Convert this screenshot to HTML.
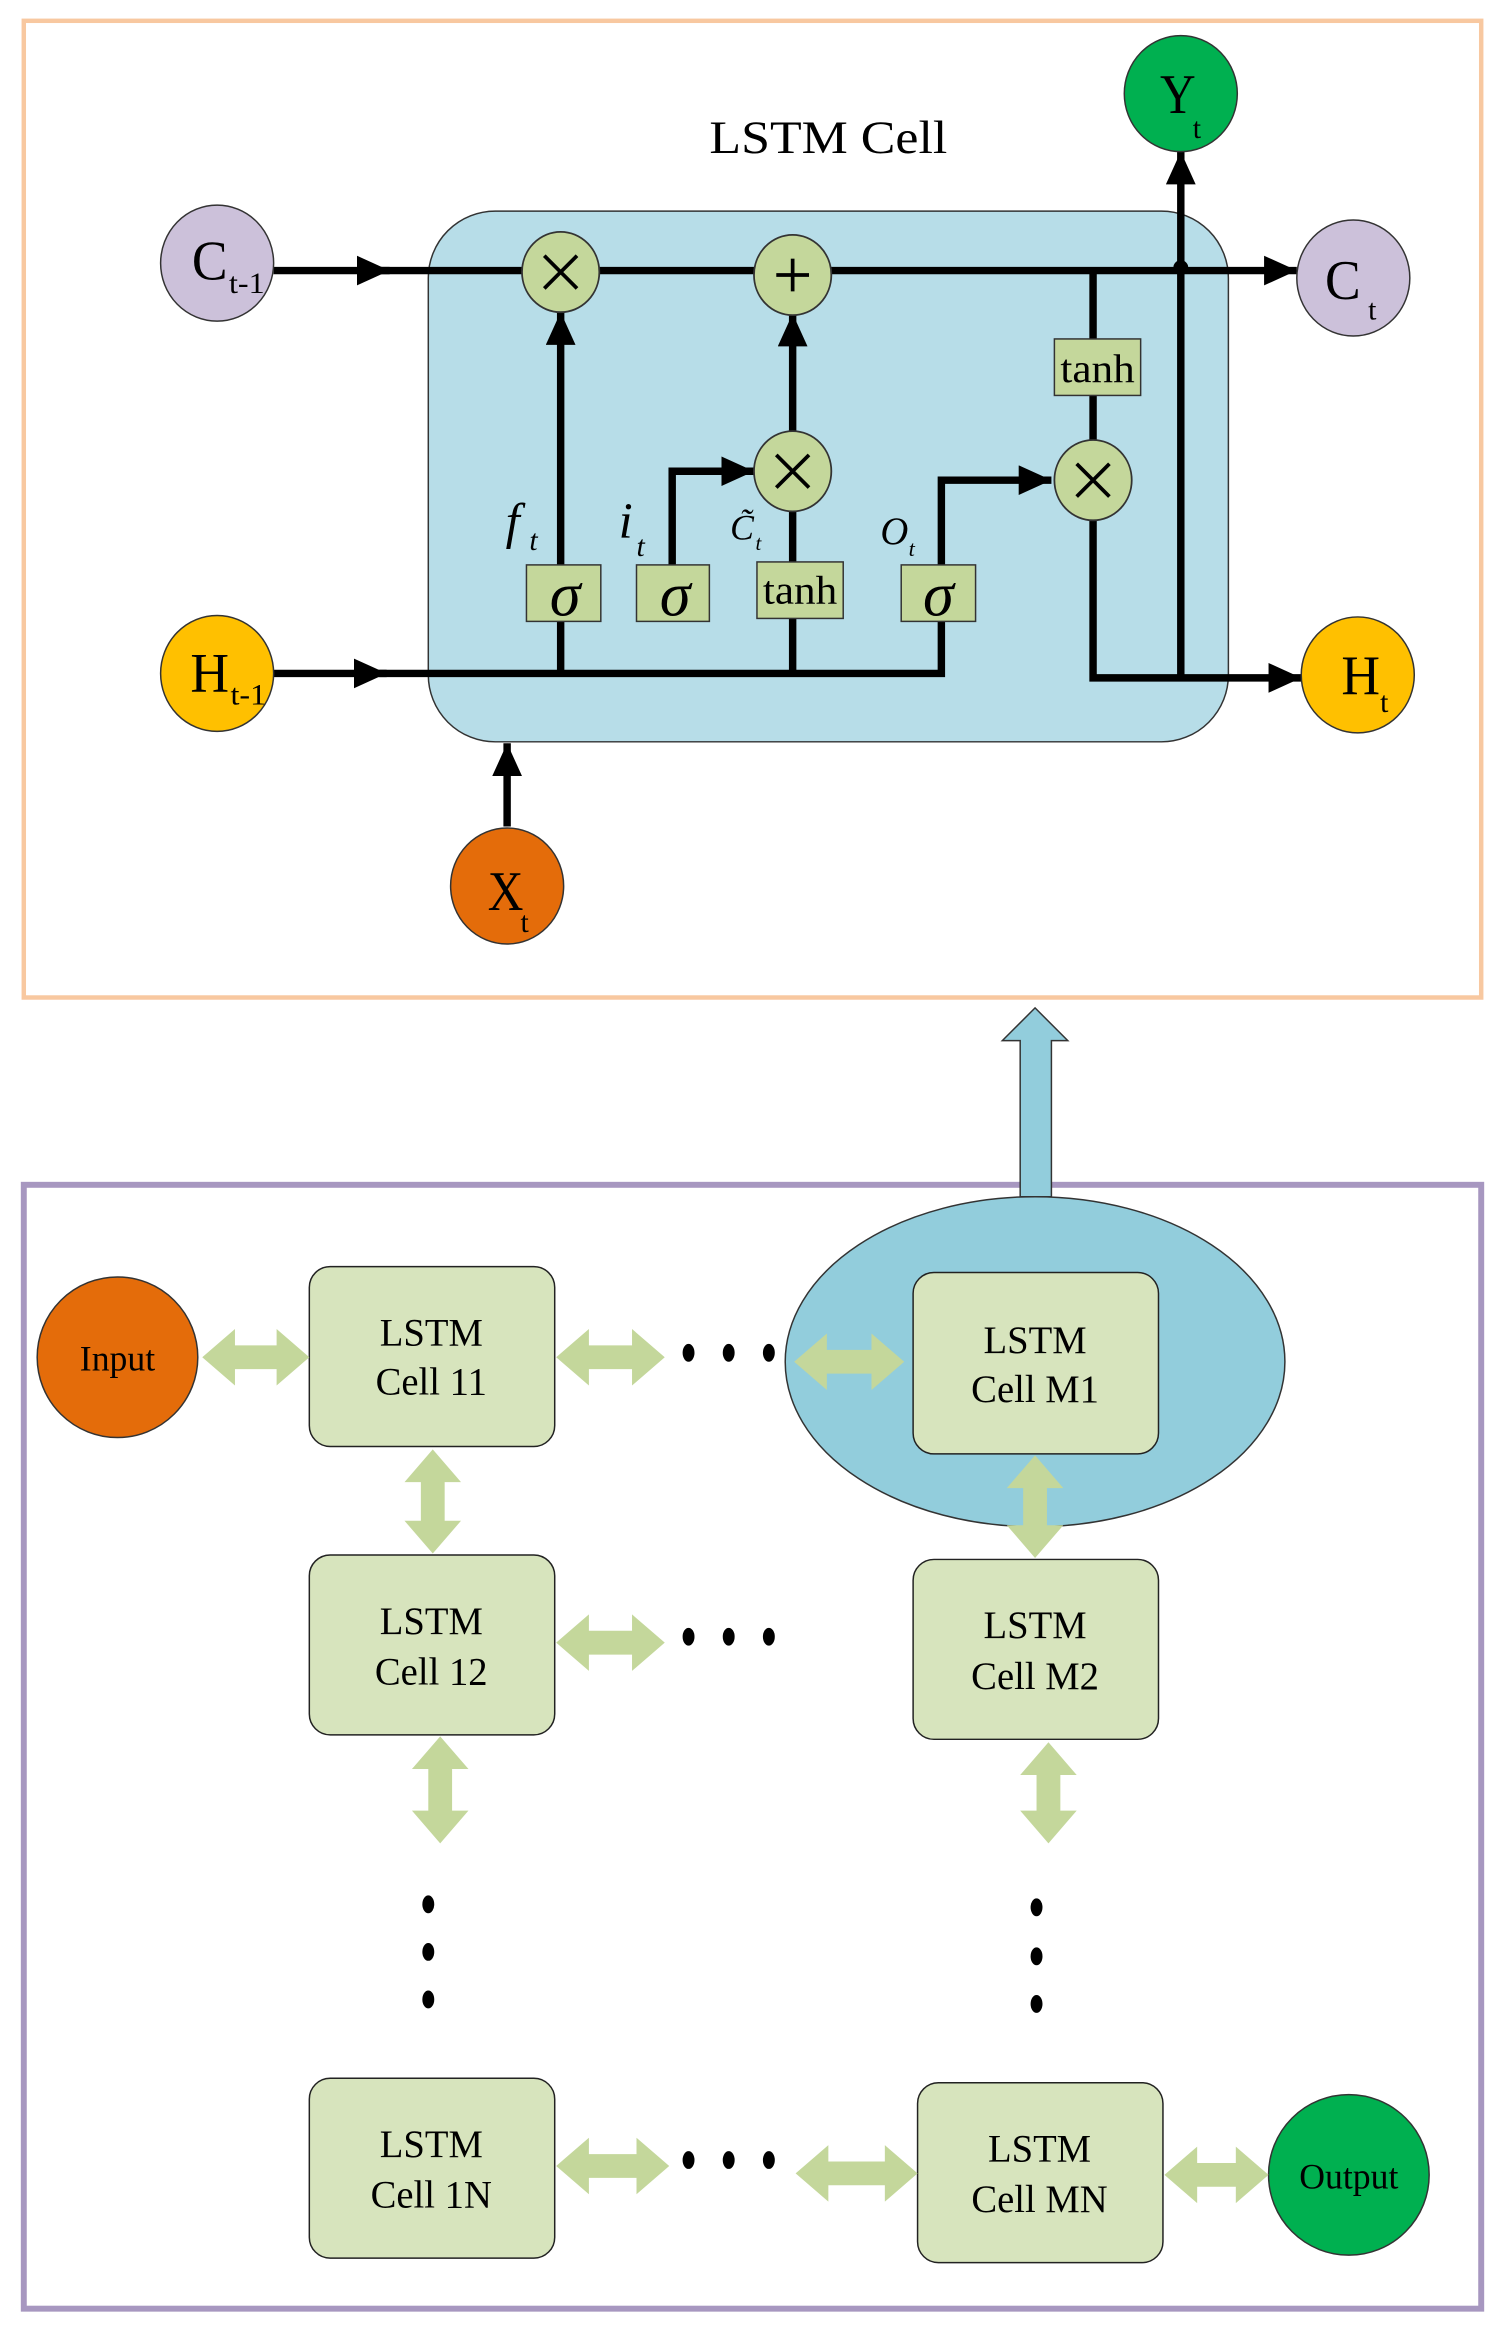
<!DOCTYPE html>
<html><head><meta charset="utf-8"><style>html,body{margin:0;padding:0;background:#fff}svg{display:block}</style></head>
<body>
<svg width="1505" height="2328" viewBox="0 0 1012 1566" preserveAspectRatio="none" xmlns="http://www.w3.org/2000/svg" font-family="'Liberation Serif', serif">
<defs>
<marker id="ah" markerUnits="userSpaceOnUse" markerWidth="24" markerHeight="24" refX="22" refY="10" orient="auto"><path d="M0,0 L22,10 L0,20 Z" fill="#000"/></marker>
</defs>
<rect x="16" y="14" width="980" height="657" fill="#fff" stroke="#f8c8a0" stroke-width="3"/>
<text x="557" y="103" font-size="31" text-anchor="middle" textLength="160" lengthAdjust="spacingAndGlyphs">LSTM Cell</text>
<rect x="288" y="142" width="538" height="357" rx="45" fill="#b7dde8" stroke="#333" stroke-width="1"/>

<g stroke="#000" stroke-width="5" fill="none">
<line x1="184" y1="182" x2="262" y2="182" marker-end="url(#ah)"/>
<line x1="255" y1="182" x2="872" y2="182" marker-end="url(#ah)"/>
<line x1="184" y1="453" x2="260" y2="453" marker-end="url(#ah)"/>
<polyline points="255,453 633,453 633,323 707,323" marker-end="url(#ah)"/>
<line x1="377" y1="453" x2="377" y2="210" marker-end="url(#ah)"/>
<polyline points="452,380 452,317 507,317" marker-end="url(#ah)"/>
<line x1="533" y1="453" x2="533" y2="343"/>
<line x1="533" y1="291" x2="533" y2="211" marker-end="url(#ah)"/>
<line x1="735" y1="182" x2="735" y2="297"/>
<polyline points="735,349 735,456 875,456" marker-end="url(#ah)"/>
<line x1="794" y1="456" x2="794" y2="102" marker-end="url(#ah)"/>
<line x1="341" y1="556" x2="341" y2="500" marker-end="url(#ah)"/>
</g>
<circle cx="794" cy="180" r="5" fill="#000"/>

<g fill="#c4d79b" stroke="#333" stroke-width="1.2">
<ellipse cx="377" cy="183" rx="26" ry="27"/>
<ellipse cx="533" cy="185" rx="26" ry="27"/>
<ellipse cx="533" cy="317" rx="26" ry="27"/>
<ellipse cx="735" cy="323" rx="26" ry="27"/>
</g>
<g stroke="#000" stroke-width="2.5">
<line x1="366" y1="172" x2="388" y2="194"/><line x1="388" y1="172" x2="366" y2="194"/>
<line x1="522" y1="185" x2="544" y2="185"/><line x1="533" y1="174" x2="533" y2="196"/>
<line x1="522" y1="306" x2="544" y2="328"/><line x1="544" y1="306" x2="522" y2="328"/>
<line x1="724" y1="312" x2="746" y2="334"/><line x1="746" y1="312" x2="724" y2="334"/>
</g>
<g fill="#c4d79b" stroke="#333" stroke-width="1">
<rect x="354" y="380" width="50" height="38"/>
<rect x="428" y="380" width="49" height="38"/>
<rect x="509" y="378" width="58" height="38"/>
<rect x="606" y="380" width="50" height="38"/>
<rect x="709" y="228" width="58" height="38"/>
</g>
<g font-size="42" font-style="italic" text-anchor="middle">
<text x="380" y="414">σ</text><text x="454" y="414">σ</text><text x="631" y="414">σ</text>
</g>
<g font-size="27" text-anchor="middle">
<text x="538" y="406" textLength="50" lengthAdjust="spacingAndGlyphs">tanh</text><text x="738" y="257" textLength="50" lengthAdjust="spacingAndGlyphs">tanh</text>
</g>
<g font-style="italic">
<text x="340" y="362" font-size="34">f</text><text x="356" y="370" font-size="20">t</text>
<text x="416" y="362" font-size="34">i</text><text x="428" y="374" font-size="20">t</text>
<text x="491" y="363" font-size="24">C̃</text><text x="508" y="370" font-size="14">t</text>
<text x="592" y="366" font-size="26">O</text><text x="611" y="374" font-size="15">t</text>
</g>

<ellipse cx="146" cy="177" rx="38" ry="39" fill="#ccc1da" stroke="#333" stroke-width="1"/>
<ellipse cx="910" cy="187" rx="38" ry="39" fill="#ccc1da" stroke="#333" stroke-width="1"/>
<ellipse cx="146" cy="453" rx="38" ry="39" fill="#ffc000" stroke="#333" stroke-width="1"/>
<ellipse cx="913" cy="454" rx="38" ry="39" fill="#ffc000" stroke="#333" stroke-width="1"/>
<ellipse cx="794" cy="63" rx="38" ry="39" fill="#00b050" stroke="#333" stroke-width="1"/>
<ellipse cx="341" cy="596" rx="38" ry="39" fill="#e46c0a" stroke="#333" stroke-width="1"/>
<g font-size="38">
<text x="129" y="188" textLength="24" lengthAdjust="spacingAndGlyphs">C</text><text x="154" y="197" font-size="20" textLength="24" lengthAdjust="spacingAndGlyphs">t-1</text>
<text x="891" y="201" textLength="24" lengthAdjust="spacingAndGlyphs">C</text><text x="920" y="215" font-size="20">t</text>
<text x="128" y="465" textLength="26" lengthAdjust="spacingAndGlyphs">H</text><text x="155" y="474" font-size="20" textLength="24" lengthAdjust="spacingAndGlyphs">t-1</text>
<text x="902" y="467" textLength="26" lengthAdjust="spacingAndGlyphs">H</text><text x="928" y="479" font-size="20">t</text>
<text x="780" y="76" textLength="24" lengthAdjust="spacingAndGlyphs">Y</text><text x="802" y="93" font-size="20">t</text>
<text x="328" y="612" textLength="24" lengthAdjust="spacingAndGlyphs">X</text><text x="350" y="627" font-size="20">t</text>
</g>

<rect x="16" y="797" width="980" height="756" fill="#fff" stroke="#a797c0" stroke-width="4"/>
<ellipse cx="696" cy="916" rx="168" ry="111" fill="#92cddc" stroke="#333" stroke-width="1"/>
<polygon points="686,805 686,700 674,700 696,678 718,700 707,700 707,805" fill="#92cddc" stroke="#333" stroke-width="1"/>

<g fill="#d7e4bd" stroke="#222" stroke-width="1">
<rect x="208" y="852" width="165" height="121" rx="14"/>
<rect x="208" y="1046" width="165" height="121" rx="14"/>
<rect x="208" y="1398" width="165" height="121" rx="14"/>
<rect x="614" y="856" width="165" height="122" rx="14"/>
<rect x="614" y="1049" width="165" height="121" rx="14"/>
<rect x="617" y="1401" width="165" height="121" rx="14"/>
</g>
<g font-size="26" text-anchor="middle">
<text x="290" y="905">LSTM</text><text x="290" y="938">Cell 11</text>
<text x="290" y="1099">LSTM</text><text x="290" y="1133">Cell 12</text>
<text x="290" y="1451">LSTM</text><text x="290" y="1485">Cell 1N</text>
<text x="696" y="910">LSTM</text><text x="696" y="943">Cell M1</text>
<text x="696" y="1102">LSTM</text><text x="696" y="1136">Cell M2</text>
<text x="699" y="1454">LSTM</text><text x="699" y="1488">Cell MN</text>
</g>
<circle cx="79" cy="913" r="54" fill="#e46c0a" stroke="#333" stroke-width="1"/>
<circle cx="907" cy="1463" r="54" fill="#00b050" stroke="#333" stroke-width="1"/>
<text x="79" y="922" font-size="24" text-anchor="middle">Input</text>
<text x="907" y="1472" font-size="24" text-anchor="middle">Output</text>

<g fill="#c4d79b">
<polygon points="136,913 158,894 158,905 186,905 186,894 208,913 186,932 186,921 158,921 158,932"/>
<polygon points="374,913 396,894 396,905 425,905 425,894 447,913 425,932 425,921 396,921 396,932"/>
<polygon points="534,916 556,897 556,908 586,908 586,897 608,916 586,935 586,924 556,924 556,935"/>
<polygon points="374,1105 396,1086 396,1097 425,1097 425,1086 447,1105 425,1124 425,1113 396,1113 396,1124"/>
<polygon points="374,1457 396,1438 396,1449 428,1449 428,1438 450,1457 428,1476 428,1465 396,1465 396,1476"/>
<polygon points="535,1462 557,1443 557,1454 595,1454 595,1443 617,1462 595,1481 595,1470 557,1470 557,1481"/>
<polygon points="783,1463 805,1444 805,1455 831,1455 831,1444 853,1463 831,1482 831,1471 805,1471 805,1482"/>
<polygon points="291,975 310,997 299,997 299,1023 310,1023 291,1045 272,1023 283,1023 283,997 272,997"/>
<polygon points="296,1168 315,1190 304,1190 304,1218 315,1218 296,1240 277,1218 288,1218 288,1190 277,1190"/>
<polygon points="696,979 715,1001 704,1001 704,1026 715,1026 696,1048 677,1026 688,1026 688,1001 677,1001"/>
<polygon points="705,1172 724,1194 713,1194 713,1218 724,1218 705,1240 686,1218 697,1218 697,1194 686,1194"/>
</g>
<g fill="#000">
<ellipse cx="463" cy="910" rx="4" ry="6"/><ellipse cx="490" cy="910" rx="4" ry="6"/><ellipse cx="517" cy="910" rx="4" ry="6"/>
<ellipse cx="463" cy="1101" rx="4" ry="6"/><ellipse cx="490" cy="1101" rx="4" ry="6"/><ellipse cx="517" cy="1101" rx="4" ry="6"/>
<ellipse cx="463" cy="1453" rx="4" ry="6"/><ellipse cx="490" cy="1453" rx="4" ry="6"/><ellipse cx="517" cy="1453" rx="4" ry="6"/>
<ellipse cx="288" cy="1281" rx="4" ry="6"/><ellipse cx="288" cy="1313" rx="4" ry="6"/><ellipse cx="288" cy="1345" rx="4" ry="6"/>
<ellipse cx="697" cy="1283" rx="4" ry="6"/><ellipse cx="697" cy="1316" rx="4" ry="6"/><ellipse cx="697" cy="1348" rx="4" ry="6"/>
</g>
</svg>
</body></html>
